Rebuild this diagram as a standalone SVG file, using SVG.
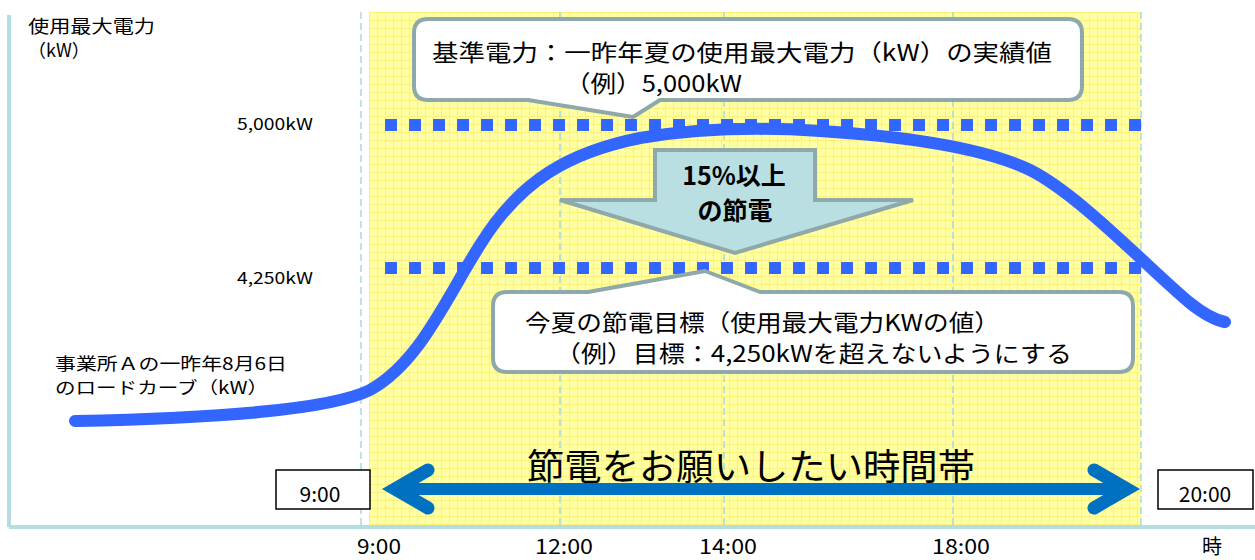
<svg xmlns="http://www.w3.org/2000/svg" width="1255" height="560" viewBox="0 0 1255 560">
  <style>
    .t { font-family: "Noto Sans CJK JP", "Noto Sans", sans-serif; fill: #000; }
    .axis { stroke: #b4dde1; stroke-width: 4; fill: none; }
    .vdash { stroke: #a9d9e0; stroke-width: 1.5; stroke-dasharray: 7 4; fill: none; }
    .dots { stroke: #3366ff; stroke-width: 12; stroke-dasharray: 12 12; fill: none; }
    .callout { fill: #fff; stroke: #8fa8aa; stroke-width: 4; stroke-linejoin: round; }
    .tbox { fill: #fff; stroke: #000; stroke-width: 1.5; }
  </style>
  <defs>
    <pattern id="grid" width="8" height="8" patternUnits="userSpaceOnUse" x="369" y="12">
      <rect width="8" height="8" fill="#ffffa3"/>
      <path d="M0,0.5 H8 M0.5,0 V8" stroke="#fff07a" stroke-width="1" fill="none"/>
    </pattern>
  </defs>
  <rect width="1255" height="560" fill="#fff"/>

  <g id="background">
    <rect x="369" y="12" width="772" height="515" fill="url(#grid)"/>
    <line class="vdash" x1="361" y1="12" x2="361" y2="527"/>
    <line class="vdash" x1="560" y1="12" x2="560" y2="527"/>
    <line class="vdash" x1="724" y1="12" x2="724" y2="527"/>
    <line class="vdash" x1="953" y1="12" x2="953" y2="527"/>
    <line class="vdash" x1="1141" y1="12" x2="1141" y2="527"/>
    <line class="axis" x1="9" y1="15" x2="9" y2="527"/>
    <line class="axis" x1="9" y1="527" x2="1255" y2="527"/>
  </g>

  <g id="axis-labels">
    <text class="t" x="28" y="33" font-size="18" textLength="127" lengthAdjust="spacingAndGlyphs">使用最大電力</text>
    <text class="t" x="28" y="57" font-size="18">（kW）</text>
    <text class="t" x="237" y="130" font-size="16" textLength="76" lengthAdjust="spacingAndGlyphs">5,000kW</text>
    <text class="t" x="237" y="284" font-size="16" textLength="76" lengthAdjust="spacingAndGlyphs">4,250kW</text>
    <text class="t" x="379" y="554" font-size="20" text-anchor="middle" textLength="44" lengthAdjust="spacingAndGlyphs">9:00</text>
    <text class="t" x="564" y="554" font-size="20" text-anchor="middle" textLength="58" lengthAdjust="spacingAndGlyphs">12:00</text>
    <text class="t" x="728" y="554" font-size="20" text-anchor="middle" textLength="58" lengthAdjust="spacingAndGlyphs">14:00</text>
    <text class="t" x="961" y="554" font-size="20" text-anchor="middle" textLength="58" lengthAdjust="spacingAndGlyphs">18:00</text>
    <text class="t" x="1212" y="554" font-size="20" text-anchor="middle">時</text>
  </g>

  <g id="curve-label">
    <text class="t" x="55" y="370" font-size="17" textLength="232" lengthAdjust="spacingAndGlyphs">事業所Ａの一昨年8月6日</text>
    <text class="t" x="55" y="394" font-size="17" textLength="213" lengthAdjust="spacingAndGlyphs">のロードカーブ（kW）</text>
  </g>

  <g id="connectors">
    <line class="dots" x1="385" y1="125" x2="1141" y2="125"/>
    <line class="dots" x1="385" y1="268" x2="1141" y2="268"/>
    <path id="load-curve" d="M75,421 C220,418 330,410 370,390 C420,362 445,300 480,245 C520,180 570,152 640,138 C700,128 760,127 820,131 C900,136 980,146 1030,170 C1080,195 1150,270 1190,303 C1205,315 1215,320 1225,322" fill="none" stroke="#3366ff" stroke-width="12" stroke-linecap="round"/>
    <g id="time-arrow" stroke="#0070c0" fill="none" stroke-width="13">
      <line x1="392" y1="489" x2="1130" y2="489" stroke-width="12"/>
      <polyline points="428,470 395,489 428,508" stroke-linecap="round" stroke-linejoin="miter"/>
      <polyline points="1094,470 1127,489 1094,508" stroke-linecap="round" stroke-linejoin="miter"/>
    </g>
  </g>

  <g id="base-callout">
    <path class="callout" d="M428,19 H1068 Q1082,19 1082,33 V86 Q1082,100 1068,100 H660 L633,117 L528,100 H428 Q414,100 414,86 V33 Q414,19 428,19 Z"/>
    <text class="t" x="432" y="61" font-size="23" textLength="620" lengthAdjust="spacingAndGlyphs">基準電力：一昨年夏の使用最大電力（kW）の実績値</text>
    <text class="t" x="565" y="92" font-size="23" textLength="177" lengthAdjust="spacingAndGlyphs">（例）5,000kW</text>
  </g>

  <g id="reduction-arrow">
    <polygon points="655,150 815,150 815,200 913,200 735,253 560,200 655,200" fill="#b9dfe3" stroke="#8fa8aa" stroke-width="4" stroke-linejoin="miter"/>
    <text class="t" x="734" y="185" font-size="25" font-weight="bold" text-anchor="middle">15%以上</text>
    <text class="t" x="735" y="220" font-size="25" font-weight="bold" text-anchor="middle">の節電</text>
  </g>

  <g id="target-callout">
    <path class="callout" d="M507,292 H588 L705,271 L760,292 H1119 Q1133,292 1133,306 V358 Q1133,372 1119,372 H507 Q493,372 493,358 V306 Q493,292 507,292 Z"/>
    <text class="t" x="525" y="331" font-size="23" textLength="475" lengthAdjust="spacingAndGlyphs">今夏の節電目標（使用最大電力KWの値）</text>
    <text class="t" x="555" y="362" font-size="23" textLength="517" lengthAdjust="spacingAndGlyphs">（例）目標：4,250kWを超えないようにする</text>
  </g>

  <g id="period-label">
    <text class="t" x="527" y="480" font-size="36" textLength="448" lengthAdjust="spacingAndGlyphs">節電をお願いしたい時間帯</text>
  </g>

  <g id="start-box">
    <rect class="tbox" x="276" y="470" width="94" height="39"/>
    <text class="t" x="320" y="502" font-size="21" text-anchor="middle">9:00</text>
  </g>

  <g id="end-box">
    <rect class="tbox" x="1158" y="470" width="95" height="39"/>
    <text class="t" x="1205" y="502" font-size="21" text-anchor="middle">20:00</text>
  </g>
</svg>
